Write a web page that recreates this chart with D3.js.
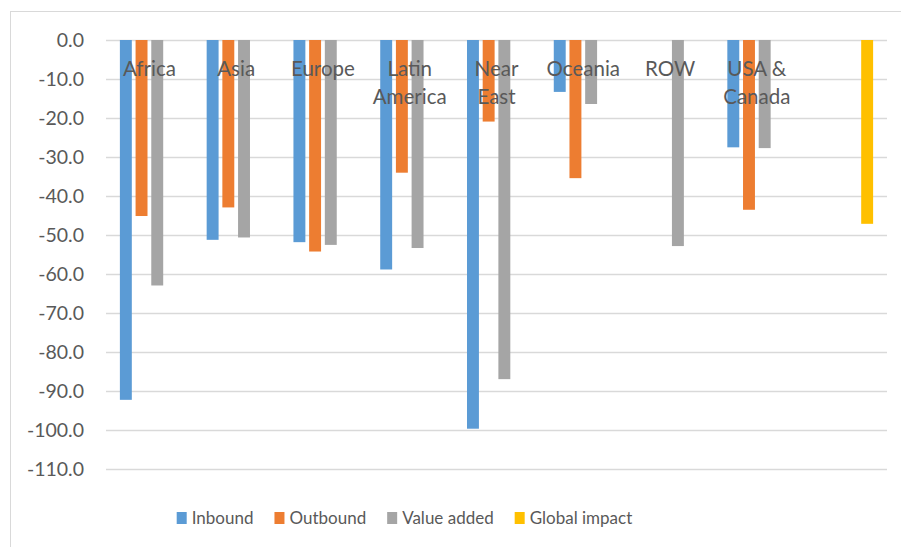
<!DOCTYPE html>
<html>
<head>
<meta charset="utf-8">
<script src="https://cdn.jsdelivr.net/npm/d3@7"></script>
<style>
  body { margin: 0; background: #fff; }
  text { font-family: Lato, "Noto Sans", sans-serif; fill: #595959; }
</style>
</head>
<body>
<svg id="chart" width="901" height="547"></svg>
<script>
// Regional impacts (percent change), one value per region and flow type
const regions = ["Africa", "Asia", "Europe", "Latin America", "Near East", "Oceania", "ROW", "USA & Canada", ""];
const seriesNames = ["Inbound", "Outbound", "Value added", "Global impact"];
const inbound      = [-92.2, -51.2, -51.8, -58.8, -99.6, -13.3, null, -27.5, null];
const outbound     = [-45.1, -42.9, -54.2, -34.0, -20.9, -35.4, null, -43.5, null];
const valueAdded   = [-62.9, -50.6, -52.5, -53.3, -86.9, -16.4, -52.8, -27.7, null];
const globalImpact = [null, null, null, null, null, null, null, null, -47.1];
const yTicks = [0, -10, -20, -30, -40, -50, -60, -70, -80, -90, -100, -110];
const colors = ["#5B9BD5", "#ED7D31", "#A5A5A5", "#FFC000"];

const seriesValues = [inbound, outbound, valueAdded, globalImpact];

const svg = d3.select("#chart");

// chart-area frame
svg.append("rect")
  .attr("x", 10.5).attr("y", 11.5)
  .attr("width", 900).attr("height", 560)
  .attr("fill", "none").attr("stroke", "#D9D9D9").attr("stroke-width", 1);

const plot = { left: 106, right: 887, top: 40, bottom: 469.3 };

const x0 = d3.scaleBand()
  .domain(regions.map((d, i) => i))
  .range([plot.left, plot.right])
  .paddingInner(0.32)
  .paddingOuter(0.16);

const x1 = d3.scaleBand()
  .domain(seriesNames)
  .range([0, x0.bandwidth()])
  .paddingInner(0.24)
  .paddingOuter(0);

const y = d3.scaleLinear()
  .domain([0, -110])
  .range([plot.top, plot.bottom]);

// horizontal gridlines
svg.append("g")
  .selectAll("line")
  .data(yTicks)
  .join("line")
  .attr("x1", plot.left).attr("x2", plot.right)
  .attr("y1", d => Math.round(y(d)) + 0.5)
  .attr("y2", d => Math.round(y(d)) + 0.5)
  .attr("stroke", "#D9D9D9").attr("stroke-width", 1.3);

// value axis labels (plain hyphen-minus, one decimal)
const yAxis = d3.axisLeft(y).tickValues(yTicks).tickFormat(d => d.toFixed(1)).tickSize(0).tickPadding(0);
const yAxisG = svg.append("g")
  .attr("transform", `translate(84,0)`)
  .call(yAxis);
yAxisG.select(".domain").remove();
yAxisG.selectAll("text")
  .attr("fill", "#595959")
  .style("font-family", "Lato, 'Noto Sans', sans-serif")
  .style("font-size", "19.5px");

// bars
const rows = [];
seriesValues.forEach((vals, s) => {
  vals.forEach((v, i) => {
    if (v !== null) rows.push({ region: i, series: seriesNames[s], color: colors[s], value: v });
  });
});

svg.append("g")
  .selectAll("rect")
  .data(rows)
  .join("rect")
  .attr("x", d => x0(d.region) + x1(d.series))
  .attr("width", x1.bandwidth())
  .attr("y", d => y(0))
  .attr("height", d => y(d.value) - y(0))
  .attr("fill", d => d.color);

// category labels, wrapped to the category width, drawn over the bars
const labelSize = 20.5;
const catG = svg.append("g");
regions.forEach((name, i) => {
  if (!name) return;
  const cx = x0(i) + x0.bandwidth() / 2;
  const t = catG.append("text")
    .attr("x", cx).attr("y", 76)
    .attr("text-anchor", "middle")
    .style("font-size", labelSize + "px");
  const words = name.split(" ");
  const lines = [];
  let line = [];
  const probe = catG.append("text").style("font-size", labelSize + "px");
  words.forEach(w => {
    const test = line.concat(w).join(" ");
    probe.text(test);
    if (line.length && probe.node().getComputedTextLength() > x0.step() - 2) {
      lines.push(line.join(" "));
      line = [w];
    } else {
      line.push(w);
    }
  });
  lines.push(line.join(" "));
  probe.remove();
  lines.forEach((l, k) => {
    t.append("tspan").attr("x", cx).attr("y", 76 + k * 28).text(l);
  });
});

// legend
const legendSize = 17;
const legend = svg.append("g");
let lx = 176.7;
seriesNames.forEach((name, s) => {
  legend.append("rect")
    .attr("x", lx).attr("y", 512)
    .attr("width", 10).attr("height", 12)
    .attr("fill", colors[s]);
  const t = legend.append("text")
    .attr("x", lx + 15).attr("y", 524)
    .style("font-size", legendSize + "px")
    .text(name);
  lx += 15 + t.node().getComputedTextLength() + 21;
});
</script>
</body>
</html>
